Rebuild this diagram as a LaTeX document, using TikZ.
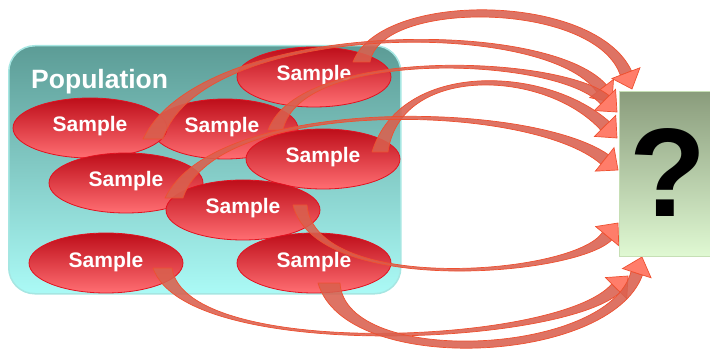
\documentclass[tikz,border=0pt]{standalone}
\usepackage{fontspec}
\setmainfont{Liberation Sans}
\usetikzlibrary{calc,shapes.geometric}
\definecolor{popTop}{HTML}{5C9C96}
\definecolor{popBot}{HTML}{ABFAF6}
\definecolor{popLine}{HTML}{A6E6E2}
\definecolor{ellTop}{HTML}{BE0E1A}
\definecolor{ellBot}{HTML}{FF6E72}
\definecolor{ellLine}{HTML}{E3111F}
\definecolor{qTop}{HTML}{8A9C7C}
\definecolor{qBot}{HTML}{E0F9D3}
\definecolor{qLine}{HTML}{C6DFB5}
\definecolor{arrLine}{HTML}{EE5030}
\definecolor{arrFill}{HTML}{D9604E}
\definecolor{headFill}{HTML}{FF7D6A}
\tikzset{
  popbox/.style={draw=popLine, line width=1.5pt, top color=popTop, bottom color=popBot,
    rounded corners=26pt, minimum width=392pt, minimum height=248pt, inner sep=0pt, anchor=north west},
  poptext/.style={text=white, font=\bfseries\fontsize{26.5}{30}\selectfont, inner sep=0pt, anchor=base west},
  samp/.style={ellipse, draw=ellLine, line width=0.8pt, top color=ellTop, bottom color=ellBot,
    minimum width=154pt, minimum height=60pt, inner sep=0pt},
  stext/.style={text=white, font=\bfseries\fontsize{21}{24}\selectfont, inner sep=0pt, anchor=base},
  band/.style={fill=arrFill, fill opacity=0.88, draw=arrLine, line width=0.7pt, line join=round},
  headshape/.style={fill=headFill, draw=arrLine, line width=0.7pt, line join=miter},
  qbox/.style={draw=qLine, line width=1.2pt, top color=qTop, bottom color=qBot,
    minimum width=100pt, minimum height=165pt, inner sep=0pt, anchor=north west},
  qmark/.style={font=\bfseries\fontsize{126}{126}\selectfont, inner sep=0pt},
}
% #1 tail point (traveller's left), #2 tail point (right), #3 #4 controls, #5 tip, #6 spread of second edge
\newcommand\blockarrow[6]{%
  \coordinate (ak) at #5;
  \coordinate (ab) at ($(ak)!17pt!#4$);
  \coordinate (ab1) at ($(ab)!6pt!90:(ak)$);
  \coordinate (ab2) at ($(ab)!6pt!-90:(ak)$);
  \coordinate (aw1) at ($(ab)!15pt!90:(ak)$);
  \coordinate (aw2) at ($(ab)!15pt!-90:(ak)$);
  \draw[band] #1 .. controls #3 and #4 .. (ab1) -- (ab2)
     .. controls ($#4+#6$) and ($#3+#6$) .. #2 -- cycle;
  \draw[headshape] (ab1) -- (aw1) -- (ak) -- (aw2) -- (ab2) -- cycle;
}
\begin{document}
\begin{tikzpicture}[x=1pt,y=-1pt]
\useasboundingbox (0,0) rectangle (710,350);
\clip (0,0) rectangle (710,350);

\node[popbox] (pop) at (8,45) {};
\node[poptext] (popt) at (31,89) {Population};

\node[samp, minimum width=146pt] (s3) at (225,129) {};
\node[samp] (s2) at (90,128) {};
\node[samp] (s5) at (126,183) {};
\node[samp] (s1) at (314,77) {};
\node[samp] (s4) at (323,159) {};
\node[samp] (s6) at (243,210) {};
\node[samp] (s7) at (106,263) {};
\node[samp] (s8) at (314,263) {};

\node[stext] (s1t) at ([yshift=-4pt]s1.center) {Sample};
\node[stext] (s2t) at ([yshift=-4pt]s2.center) {Sample};
\node[stext] (s3t) at ([xshift=-3pt,yshift=-4pt]s3.center) {Sample};
\node[stext] (s4t) at ([yshift=-4pt]s4.center) {Sample};
\node[stext] (s5t) at ([yshift=-4pt]s5.center) {Sample};
\node[stext] (s6t) at ([yshift=-4pt]s6.center) {Sample};
\node[stext] (s7t) at ([yshift=-4pt]s7.center) {Sample};
\node[stext] (s8t) at ([yshift=-4pt]s8.center) {Sample};

% arrows
\blockarrow{(353,62)}{(370,62)}{(380,-10)}{(595,-8)}{(632,89)}{(0,9)}
\blockarrow{(143,139)}{(163,139)}{(200,20)}{(545,15)}{(612,102)}{(0,2)}
\blockarrow{(268,130)}{(283,130)}{(300,45)}{(560,55)}{(617,112)}{(0,2)}
\blockarrow{(372,152)}{(388,152)}{(400,60)}{(545,65)}{(617,138)}{(0,4)}
\blockarrow{(165,198)}{(183,198)}{(215,95)}{(530,100)}{(618,170)}{(0,2)}
\blockarrow{(307,205)}{(293,205)}{(315,295)}{(575,275)}{(618,223)}{(0,2)}
\blockarrow{(172,268)}{(153,268)}{(185,360)}{(560,345)}{(628,276)}{(0,2)}
\blockarrow{(340,283)}{(318,283)}{(345,368)}{(610,356)}{(642,257)}{(0,9)}

\node[qbox] (q) at (619,91) {};
\node[qmark] (qm) at (668,173) {?};
\end{tikzpicture}
\end{document}
